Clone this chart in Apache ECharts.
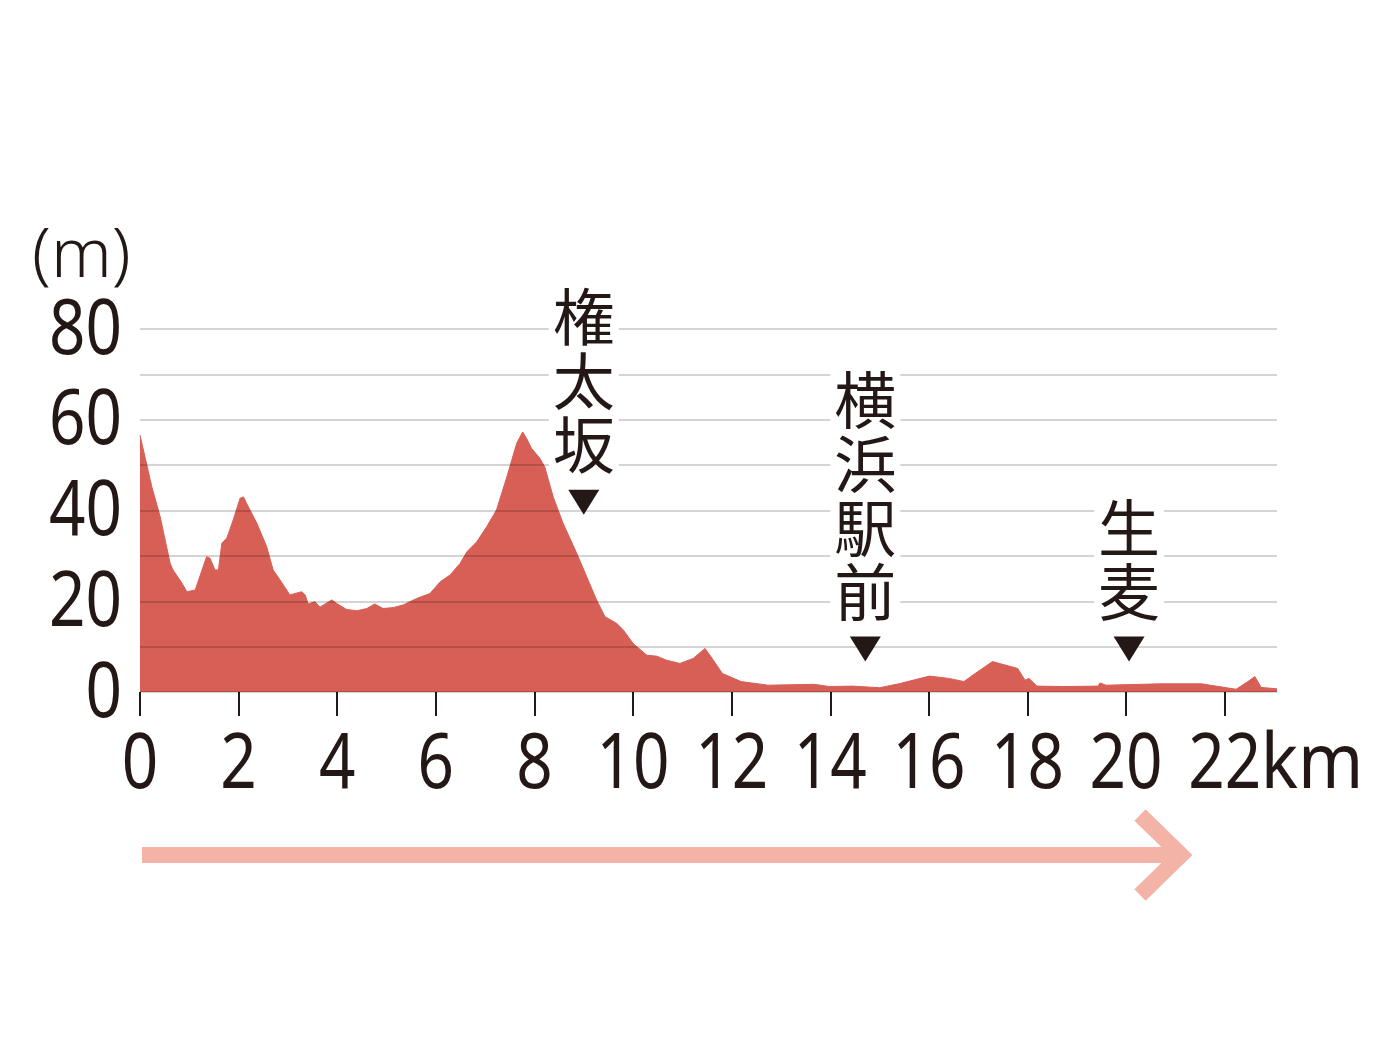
<!DOCTYPE html>
<html>
<head>
<meta charset="utf-8">
<script src="https://cdn.jsdelivr.net/npm/echarts@6/dist/echarts.min.js"></script>
<style>
  html, body { margin: 0; padding: 0; background: #fff; }
  #chart { width: 1386px; height: 1053px; }
</style>
</head>
<body>
<div id="chart"></div>
<script>
// 距離 (km) と標高 (m)
const distances = [0, 0.24, 0.41, 0.61, 0.67, 0.85, 0.95, 1.12, 1.35, 1.42, 1.52, 1.59, 1.66, 1.76, 1.89,
  2.03, 2.10, 2.16, 2.37, 2.57, 2.70, 2.84, 3.04, 3.28, 3.35, 3.41, 3.55, 3.65, 3.89, 3.99,
  4.19, 4.40, 4.60, 4.76, 4.93, 5.14, 5.34, 5.61, 5.88, 6.09, 6.29, 6.49, 6.63, 6.83, 7.03,
  7.23, 7.44, 7.64, 7.76, 7.84, 7.94, 8.11, 8.21, 8.38, 8.58, 8.86, 9.06, 9.26, 9.43, 9.67,
  9.80, 10.00, 10.28, 10.48, 10.68, 10.95, 11.22, 11.46, 11.63, 11.81, 12.19, 12.74, 13.67, 13.98,
  14.45, 15.0, 15.39, 16.01, 16.4, 16.71, 16.94, 17.29, 17.56, 17.80, 17.95, 18.03, 18.19, 18.73,
  19.43, 19.47, 19.59, 20.68, 21.53, 22.23, 22.47, 22.61, 22.74, 23.06];
const elevations = [56.6, 45.2, 38.6, 28.4, 26.9, 24.0, 22.1, 22.5, 29.8, 29.5, 26.9, 26.9, 32.8, 33.9, 37.9,
  42.7, 43.0, 41.6, 37.2, 32.0, 26.9, 24.7, 21.4, 22.1, 21.4, 19.4, 19.9, 18.7, 20.3, 19.5,
  18.2, 17.9, 18.4, 19.4, 18.4, 18.6, 19.2, 20.6, 21.7, 24.3, 25.8, 28.3, 30.9, 33.1, 36.4,
  40.1, 47.4, 54.8, 57.3, 55.9, 53.7, 51.5, 49.6, 43.0, 37.2, 30.5, 25.4, 20.3, 16.6, 15.1,
  13.7, 10.7, 8.1, 7.9, 7.0, 6.3, 7.4, 9.6, 7.0, 4.1, 2.3, 1.5, 1.7, 1.2,
  1.3, 0.95, 1.8, 3.5, 3.0, 2.3, 4.1, 6.7, 5.9, 5.2, 2.6, 3.0, 1.3, 1.2,
  1.3, 2.0, 1.5, 1.8, 1.8, 0.6, 2.3, 3.4, 1.0, 0.7];

// 地点マーカー
const placeNames = ['権太坂', '横浜駅前', '生麦'];
const placeKm = [9.0, 14.71, 20.06];
const placeMarkY = [41.8, 9.5, 9.5];

const xTicks = [0, 2, 4, 6, 8, 10, 12, 14, 16, 18, 20, 22];
const yLabels = [0, 20, 40, 60, 80];

const numFont = '"Noto Sans", sans-serif';
const jpFont = '"Noto Sans CJK JP", sans-serif';
const ink = '#231815';
const pink = '#f3b3a6';

const profile = distances.map((d, i) => [d, elevations[i]]);
const places = placeNames.map((n, i) => ({ value: [placeKm[i], placeMarkY[i]], name: n }));

const chart = echarts.init(document.getElementById('chart'));

chart.setOption({
  animation: false,
  backgroundColor: '#fff',
  grid: { left: 140, right: 109, top: 329, bottom: 361 },
  xAxis: {
    type: 'value',
    min: 0,
    max: 23.06,
    interval: 2,
    offset: 12,
    axisLine: { show: false },
    axisTick: { show: true, length: 24, lineStyle: { color: ink, width: 2 }, customValues: xTicks },
    axisLabel: { show: false },
    splitLine: { show: false }
  },
  yAxis: {
    type: 'value',
    min: 0,
    max: 80,
    interval: 10,
    z: 3,
    axisLine: { show: false },
    axisTick: { show: false },
    axisLabel: { show: false },
    splitLine: { show: true, lineStyle: { color: 'rgba(0,0,0,0.17)', width: 2 } }
  },
  series: [
    {
      type: 'line',
      data: profile,
      symbol: 'none',
      lineStyle: { color: '#d75f56', width: 1 },
      areaStyle: { color: '#d75f56', opacity: 1 },
      z: 2
    },
    {
      type: 'scatter',
      data: places,
      symbol: 'triangle',
      symbolRotate: 180,
      symbolSize: [31, 25],
      itemStyle: { color: ink, opacity: 1 },
      z: 5,
      label: {
        show: true,
        position: 'top',
        distance: 12,
        formatter: p => p.name.split('').join('\n'),
        fontFamily: jpFont,
        fontSize: 62,
        lineHeight: 64,
        color: ink,
        backgroundColor: '#fff',
        padding: [2, 4, 0, 4]
      }
    }
  ]
});

// 目盛りラベルは細めの数字にするため、座標から位置を取って横に少し縮めて描く
const labelText = (text, x, y, align, sx) => ({
  type: 'text',
  x: x,
  y: y,
  scaleX: sx,
  z: 10,
  style: {
    text: text,
    font: '76px ' + numFont,
    fill: ink,
    textAlign: align,
    textVerticalAlign: 'middle'
  }
});

const graphics = [];
xTicks.forEach(v => {
  const px = chart.convertToPixel({ xAxisIndex: 0 }, v);
  graphics.push(labelText(String(v), px, 766, 'center', 0.84));
});
yLabels.forEach(v => {
  const py = chart.convertToPixel({ yAxisIndex: 0 }, v);
  graphics.push(labelText(String(v), 122, py + 3, 'right', 0.84));
});

const p22 = chart.convertToPixel({ xAxisIndex: 0 }, 22);
const p0 = chart.convertToPixel({ xAxisIndex: 0 }, 0);
graphics.push(labelText('km', p22 + 36, 766, 'left', 0.92));
graphics.push({
  type: 'text',
  x: 32,
  y: 258,
  style: { text: '(m)', font: '300 68px ' + numFont, fill: ink, textVerticalAlign: 'middle' }
});

// 進行方向の矢印
graphics.push({
  type: 'line',
  shape: { x1: p0 + 2, y1: 855, x2: 1180, y2: 855 },
  style: { stroke: pink, lineWidth: 16 }
});
graphics.push({
  type: 'polyline',
  shape: { points: [[1140, 815], [1181, 855], [1140, 895]] },
  style: { stroke: pink, lineWidth: 16, fill: null }
});

chart.setOption({ graphic: graphics });
</script>
</body>
</html>
